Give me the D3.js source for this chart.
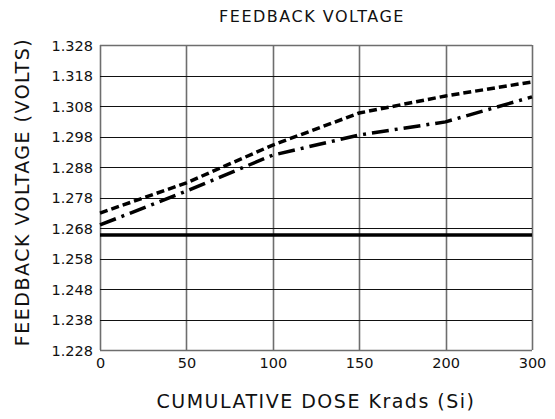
<!DOCTYPE html>
<html>
<head>
<meta charset="utf-8">
<script src="https://cdn.jsdelivr.net/npm/d3@7"></script>
<style>
body { margin: 0; background: #fff; }
svg { display: block; }
text { font-family: "DejaVu Sans", sans-serif; fill: #111; }
</style>
</head>
<body>
<svg id="vis" width="555" height="419"></svg>
<script>
// dose categories (the axis is evenly spaced, 250 is skipped)
var doses = ["0", "50", "100", "150", "200", "300"];
var yTicks = [1.228, 1.238, 1.248, 1.258, 1.268, 1.278, 1.288, 1.298, 1.308, 1.318, 1.328];

// series
var limitVolts = [1.2657, 1.2657, 1.2657, 1.2657, 1.2657, 1.2657];
var dashedVolts = [1.2729, 1.2828, 1.2952, 1.3057, 1.3113, 1.3159];
var dashDotVolts = [1.2690, 1.2801, 1.2919, 1.2985, 1.3028, 1.3110];

var svg = d3.select("#vis"),
	margin = {top: 45, right: 23, bottom: 69, left: 100},
	width = 555,
	height = 419;

var x = d3.scalePoint().domain(doses).range([margin.left, width - margin.right]);
var y = d3.scaleLinear().domain([1.228, 1.328]).range([height - margin.bottom, margin.top]);

// vertical grid
svg.append("g")
	.selectAll("line")
	.data(doses)
	.enter().append("line")
	.attr("x1", function(d) { return Math.round(x(d)) + 0.5; })
	.attr("x2", function(d) { return Math.round(x(d)) + 0.5; })
	.attr("y1", y(1.328))
	.attr("y2", y(1.228))
	.attr("stroke", "#6e6e6e")
	.attr("stroke-width", 1.6);

// horizontal grid
svg.append("g")
	.selectAll("line")
	.data(yTicks)
	.enter().append("line")
	.attr("x1", x("0"))
	.attr("x2", x("300"))
	.attr("y1", function(d) { return Math.round(y(d)) + 0.5; })
	.attr("y2", function(d) { return Math.round(y(d)) + 0.5; })
	.attr("stroke", function(d, i) { return (i == 0 || i == 10) ? "#6e6e6e" : "#111"; })
	.attr("stroke-width", function(d, i) { return (i == 0 || i == 10) ? 1.6 : 1.2; });

// axes (labels only)
var yAxis = d3.axisLeft(y).tickValues(yTicks).tickFormat(d3.format(".3f")).tickSize(0).tickPadding(7);
var gy = svg.append("g").attr("transform", "translate(" + margin.left + ",0)").call(yAxis);
gy.select(".domain").remove();
gy.selectAll("text").style("font-size", "14.5px").attr("fill", "#111").attr("dy", "0.35em");

var xAxis = d3.axisBottom(x).tickSize(0).tickPadding(8);
var gx = svg.append("g").attr("transform", "translate(0," + (height - margin.bottom) + ")").call(xAxis);
gx.select(".domain").remove();
gx.selectAll("text").style("font-size", "14.5px").attr("fill", "#111");

var line = d3.line()
	.x(function(d, i) { return x(doses[i]); })
	.y(function(d) { return y(d); });

svg.append("path").attr("d", line(limitVolts))
	.attr("fill", "none").attr("stroke", "#000").attr("stroke-width", 3.5);

svg.append("path").attr("d", line(dashedVolts))
	.attr("fill", "none").attr("stroke", "#000").attr("stroke-width", 3.5)
	.attr("stroke-dasharray", "8,4");

svg.append("path").attr("d", line(dashDotVolts))
	.attr("fill", "none").attr("stroke", "#000").attr("stroke-width", 3.5)
	.attr("stroke-dasharray", "17,6,3,6");

// titles
svg.append("text")
	.attr("x", 312).attr("y", 22)
	.attr("text-anchor", "middle")
	.style("font-size", "16px")
	.style("letter-spacing", "1.5px")
	.text("FEEDBACK VOLTAGE");

svg.append("text")
	.attr("x", 316).attr("y", 408)
	.attr("text-anchor", "middle")
	.style("font-size", "19px")
	.style("letter-spacing", "1.5px")
	.text("CUMULATIVE DOSE Krads (Si)");

svg.append("text")
	.attr("transform", "translate(29,192) rotate(-90)")
	.attr("text-anchor", "middle")
	.style("font-size", "19px")
	.style("letter-spacing", "1.5px")
	.text("FEEDBACK VOLTAGE (VOLTS)");
</script>
</body>
</html>
